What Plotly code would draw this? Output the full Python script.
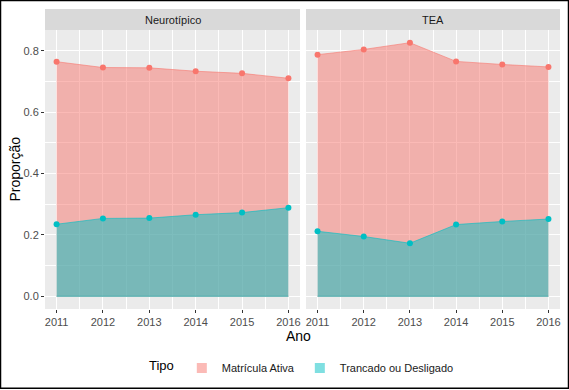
import plotly.graph_objects as go

anos = [2011, 2012, 2013, 2014, 2015, 2016]
grupos = ["Neurotípico", "TEA"]
tipos = ["Matrícula Ativa", "Trancado ou Desligado"]
matricula_neuro = [0.765, 0.746, 0.745, 0.734, 0.727, 0.711]
trancado_neuro = [0.235, 0.254, 0.255, 0.266, 0.273, 0.289]
matricula_tea = [0.788, 0.805, 0.827, 0.766, 0.756, 0.748]
trancado_tea = [0.212, 0.195, 0.173, 0.234, 0.244, 0.252]
y_ticks = [0.0, 0.2, 0.4, 0.6, 0.8]

cores = {"Matrícula Ativa": ("#F8766D", "rgba(248,118,109,0.5)"),
         "Trancado ou Desligado": ("#00BFC4", "rgba(0,191,196,0.5)")}

dados = {
    "Neurotípico": {"Matrícula Ativa": matricula_neuro, "Trancado ou Desligado": trancado_neuro},
    "TEA": {"Matrícula Ativa": matricula_tea, "Trancado ou Desligado": trancado_tea},
}

FONT = "Liberation Sans, Arial, Helvetica, sans-serif"
fig = go.Figure()
for gi, g in enumerate(grupos):
    xa = "x" if gi == 0 else "x2"
    ya = "y" if gi == 0 else "y2"
    for t in tipos:
        line_c, fill_c = cores[t]
        fig.add_trace(go.Scatter(
            x=anos, y=dados[g][t], mode="lines+markers", fill="tozeroy",
            fillcolor=fill_c, line=dict(color=line_c, width=0.6),
            marker=dict(color=line_c, size=6),
            name=t, legendgroup=t, showlegend=False,
            xaxis=xa, yaxis=ya))
        fig.add_trace(go.Scatter(
            x=[anos[0], anos[-1]], y=[0, 0], mode="lines",
            line=dict(color=line_c, width=0.6), showlegend=False,
            hoverinfo="skip", xaxis=xa, yaxis=ya))

# legend keys
for t in tipos:
    line_c, fill_c = cores[t]
    fig.add_trace(go.Scatter(
        x=[None], y=[None], mode="markers", name=t, legendgroup=t, showlegend=True,
        marker=dict(symbol="square", size=10, color=fill_c, line=dict(width=0)),
        xaxis="x", yaxis="y"))

W, H = 569, 390
ml, mr, mt, mb = 45, 9, 30, 80
pw = W - ml - mr
ph = H - mt - mb
d1 = [0, 255 / pw]
d2 = [261 / pw, 1]

xcommon = dict(range=[2010.75, 2016.25], tickvals=anos, ticktext=[str(a) for a in anos],
               showgrid=True, gridcolor="white", gridwidth=1.1,
               minor=dict(dtick=0.5, tick0=2010.5, showgrid=True, gridcolor="white", gridwidth=0.5),
               ticks="outside", ticklen=3, tickcolor="#333333", tickwidth=1,
               tickfont=dict(family=FONT, size=11, color="#4D4D4D"),
               zeroline=False, showline=False, fixedrange=True)
ycommon = dict(range=[-0.0414, 0.8684], tickvals=y_ticks, ticktext=["0.0", "0.2", "0.4", "0.6", "0.8"],
               showgrid=True, gridcolor="white", gridwidth=1.1,
               minor=dict(dtick=0.1, tick0=0.1, showgrid=True, gridcolor="white", gridwidth=0.5),
               ticklen=3, tickcolor="#333333", tickwidth=1,
               tickfont=dict(family=FONT, size=11, color="#4D4D4D"),
               zeroline=False, showline=False, fixedrange=True)

fig.update_layout(
    width=W, height=H,
    margin=dict(l=ml, r=mr, t=mt, b=mb),
    paper_bgcolor="white", plot_bgcolor="white",
    font=dict(family=FONT, size=11, color="black"),
    xaxis=dict(domain=d1, anchor="y", **xcommon),
    xaxis2=dict(domain=d2, anchor="y2", **xcommon),
    yaxis=dict(domain=[0, 1], anchor="x", ticks="outside", **ycommon),
    yaxis2=dict(domain=[0, 1], anchor="x2", showticklabels=False, ticks="", **ycommon),
    legend=dict(orientation="h", x=(303 - ml) / pw, xanchor="center", y=-(58 / ph), yanchor="middle",
                title=dict(text="Tipo", font=dict(family=FONT, size=13, color="black")),
                font=dict(family=FONT, size=11, color="#1A1A1A"), itemwidth=30,
                tracegroupgap=0, bgcolor="rgba(0,0,0,0)"),
    showlegend=True,
)

shapes = []
for d in (d1, d2):
    shapes.append(dict(type="rect", xref="paper", yref="paper", x0=d[0], x1=d[1], y0=0, y1=1,
                       fillcolor="#EBEBEB", line=dict(width=0), layer="below"))
    shapes.append(dict(type="rect", xref="paper", yref="paper", x0=d[0], x1=d[1], y0=1.0, y1=1 + 21 / ph,
                       fillcolor="#D9D9D9", line=dict(width=0), layer="below"))
shapes.append(dict(type="rect", xref="paper", yref="paper", x0=-ml / pw + 0.5 / pw, x1=1 + (mr - 0.5) / pw,
                   y0=-(mb - 0.5) / ph, y1=1 + (mt - 0.5) / ph, line=dict(color="black", width=1.5),
                   fillcolor="rgba(0,0,0,0)"))
fig.update_layout(shapes=shapes)

ann = []
for g, d in zip(grupos, (d1, d2)):
    ann.append(dict(text=g, x=(d[0] + d[1]) / 2, y=1 + 10.5 / ph, xref="paper", yref="paper",
                    showarrow=False, xanchor="center", yanchor="middle",
                    font=dict(family=FONT, size=11, color="#1A1A1A")))
ann.append(dict(text="Ano", x=(298 - ml) / pw, y=-(27 / ph), xref="paper", yref="paper",
                showarrow=False, xanchor="center", yanchor="middle",
                font=dict(family=FONT, size=14, color="black")))
ann.append(dict(text="Proporção", x=-(31 / pw), y=0.5, xref="paper", yref="paper",
                showarrow=False, xanchor="center", yanchor="middle", textangle=-90,
                font=dict(family=FONT, size=14, color="black")))
fig.update_layout(annotations=ann)

fig.write_html("out.html", config={"displayModeBar": False},
               post_script="document.body.style.margin='0';document.body.style.padding='0';document.body.style.overflow='hidden';")
